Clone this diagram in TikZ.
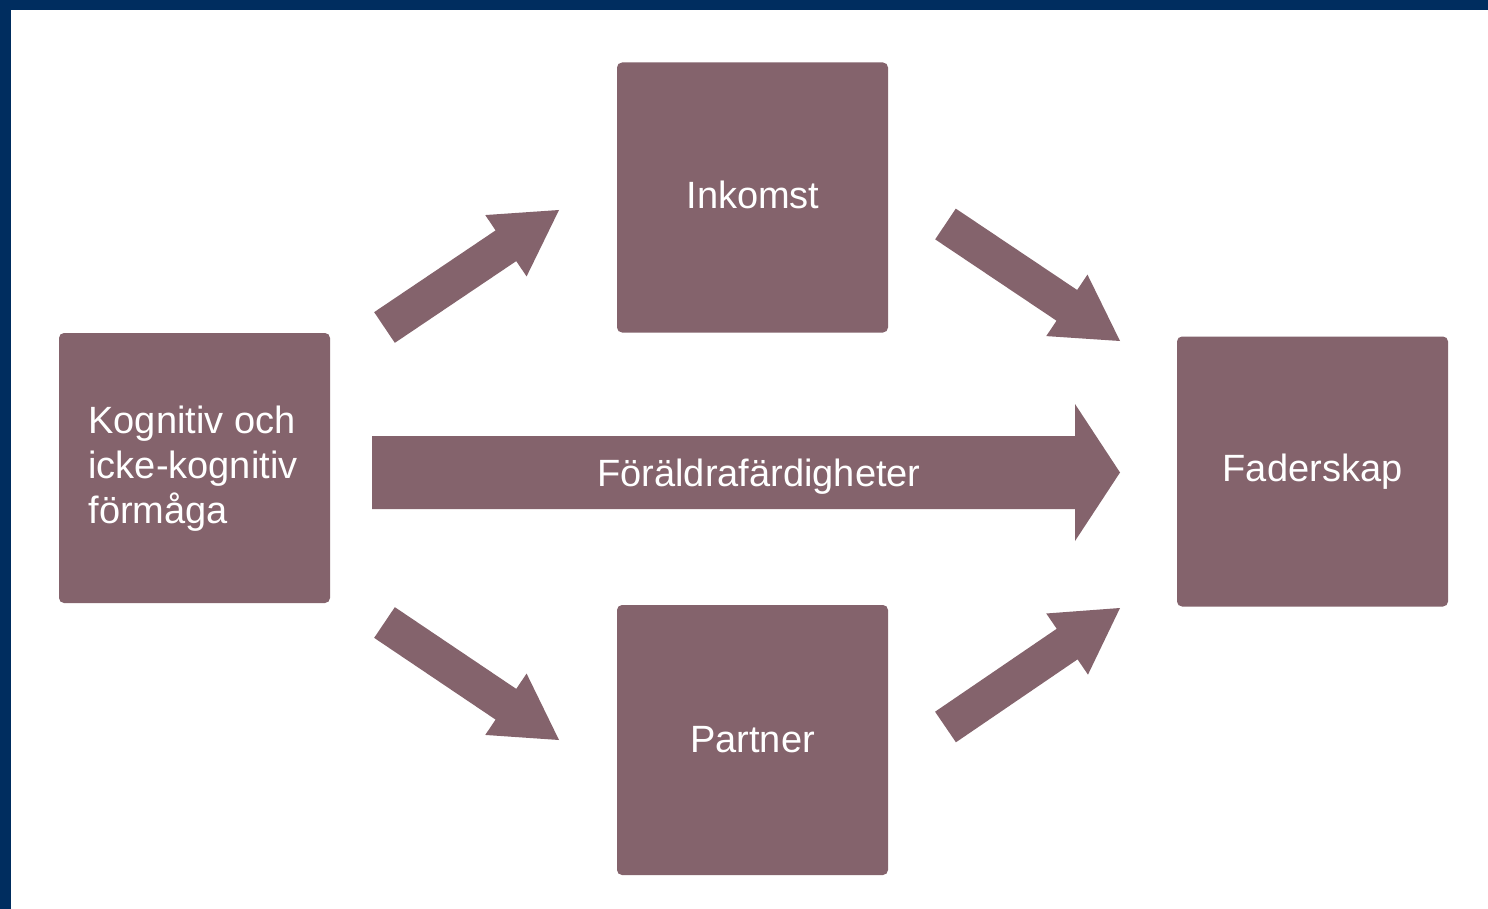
\documentclass[tikz,border=0pt]{standalone}
\usepackage{fontspec}
\setmainfont{Liberation Sans}
\usetikzlibrary{calc}
\definecolor{boxfill}{RGB}{132,99,108}
\definecolor{frameblue}{RGB}{0,45,95}
\tikzset{
  factor/.style={fill=boxfill, rounded corners=5pt, minimum width=271pt,
    minimum height=270pt, inner sep=0pt, text=white,
    font=\fontsize{38}{45}\selectfont},
  label/.style={text=white, inner sep=0pt, font=\fontsize{38}{45}\selectfont},
}
% block arrow: from, to, half shaft, half head, head length
\newcommand{\blockarrow}[5]{%
  \coordinate (bh) at ($(#2)!#5!(#1)$);
  \fill[boxfill] ($(#1)!#3!90:(#2)$) -- ($(bh)!#3!-90:(#1)$)
    -- ($(bh)!#4!-90:(#1)$) -- (#2) -- ($(bh)!#4!90:(#1)$)
    -- ($(bh)!#3!90:(#1)$) -- ($(#1)!#3!-90:(#2)$) -- cycle;
}
\begin{document}
\begin{tikzpicture}[x=1pt, y=-1pt]
    \fill[frameblue] (0,0) rectangle (1488,909);
    \fill[white] (11,10) rectangle (1488,909);
    \useasboundingbox (0,0) rectangle (1488,909);
    \node[factor] (K) at (194.5,468){};
    \node[label, align=left] (Kt) at (193,469){Kognitiv och\\icke-kognitiv\\förmåga};
    \node[factor] (I) at (752.5,197.5){};
    \node[label] (It) at (753,195){Inkomst};
    \node[factor] (P) at (752.5,740){Partner};
    \node[factor] (F) at (1312.5,471.5){Faderskap};
    \coordinate (KI1) at (384.5,327.5);
    \coordinate (KI2) at (559,210);
    \coordinate (KP1) at (384.5,622.5);
    \coordinate (KP2) at (559,740);
    \coordinate (IF1) at (945.5,224);
    \coordinate (IF2) at (1120,341);
    \coordinate (PF1) at (945.5,727);
    \coordinate (PF2) at (1120,608);
    \coordinate (KF1) at (372,472.5);
    \coordinate (KF2) at (1120,472.5);
    \blockarrow{KI1}{KI2}{18.5pt}{37pt}{64pt}
    \blockarrow{KP1}{KP2}{18.5pt}{37pt}{64pt}
    \blockarrow{IF1}{IF2}{18.5pt}{37pt}{64pt}
    \blockarrow{PF1}{PF2}{18.5pt}{37pt}{64pt}
    \blockarrow{KF1}{KF2}{36.5pt}{68.5pt}{45pt}
    \node[label] (KFt) at (759,477){Föräldrafärdigheter};
  \end{tikzpicture}
\end{document}
